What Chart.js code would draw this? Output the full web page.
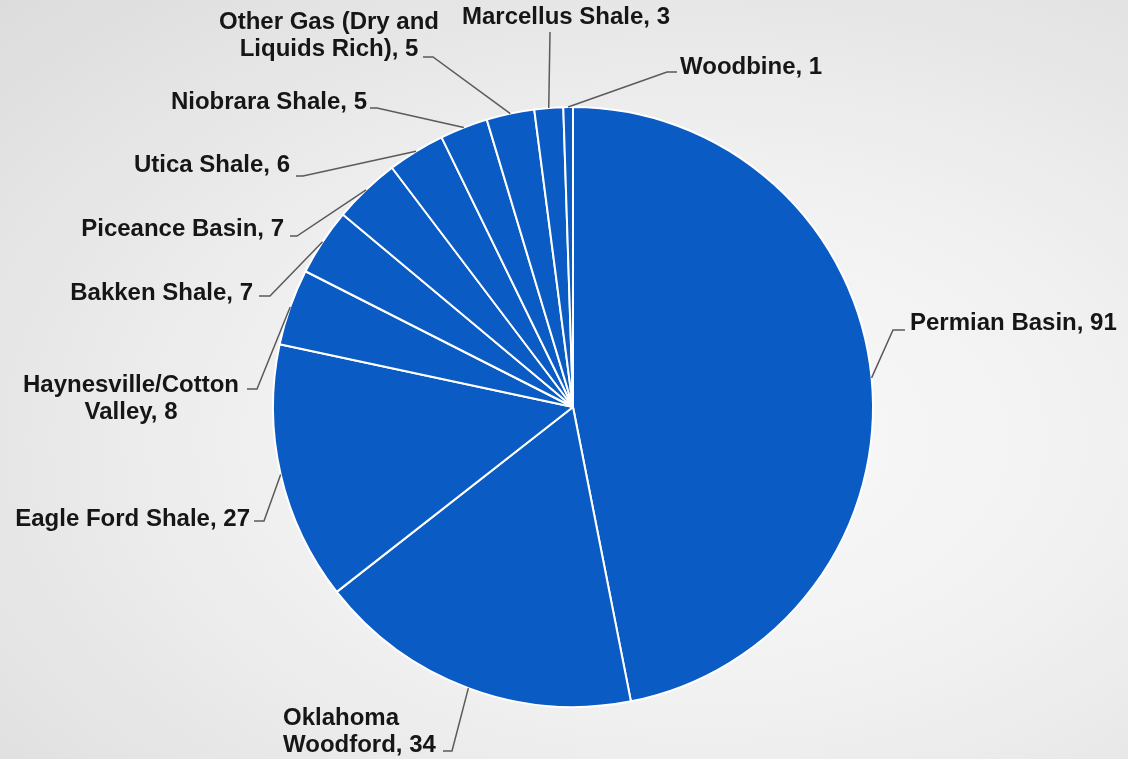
<!DOCTYPE html>
<html>
<head>
<meta charset="utf-8">
<script src="https://cdn.jsdelivr.net/npm/chart.js@4/dist/chart.umd.min.js"></script>
<style>
  html, body { margin: 0; padding: 0; }
  body {
    width: 1128px; height: 759px; overflow: hidden;
    background: radial-gradient(ellipse at 62% 58%, #fafafa 0%, #f0f0f0 45%, #dcdcdc 100%);
  }
  canvas { display: block; }
</style>
</head>
<body>
<canvas id="chart" width="1128" height="759"></canvas>
<script>
// rigs by basin, clockwise from 12 o'clock
var categories = ['Permian Basin', 'Oklahoma Woodford', 'Eagle Ford Shale', 'Haynesville/Cotton Valley',
    'Bakken Shale', 'Piceance Basin', 'Utica Shale', 'Niobrara Shale',
    'Other Gas (Dry and Liquids Rich)', 'Marcellus Shale', 'Woodbine'];
var rigCounts = [91, 34, 27, 8, 7, 7, 6, 5, 5, 3, 1];

// label placement: elbow of leader, end of tail, text anchor, alignment, optional line break
var labelLayout = [
    {elbow: [893, 330], tail: [905, 330], x: 910, y: 323, align: 'left'},
    {elbow: [452, 751], tail: [443, 751], x: 283, y: 718, align: 'left', br: 'Oklahoma'},
    {elbow: [264, 521], tail: [254, 521], x: 250, y: 519, align: 'right'},
    {elbow: [257, 389], tail: [247, 389], x: 131, y: 385, align: 'center', br: 'Haynesville/Cotton'},
    {elbow: [270, 296], tail: [259, 296], x: 253, y: 293, align: 'right'},
    {elbow: [297, 236], tail: [290, 236], x: 284, y: 229, align: 'right'},
    {elbow: [303, 176], tail: [296, 176], x: 290, y: 165, align: 'right'},
    {elbow: [377, 108], tail: [370, 108], x: 367, y: 102, align: 'right'},
    {elbow: [433, 57], tail: [423, 57], x: 329, y: 22, align: 'center', br: 'Other Gas (Dry and'},
    {elbow: [550, 32], tail: [550, 32], x: 566, y: 17, align: 'center'},
    {elbow: [667, 72], tail: [677, 72], x: 680, y: 67, align: 'left'}
];

const leaderLabels = {
    id: 'leaderLabels',
    afterDraw(chart) {
        const ctx = chart.ctx;
        const arcs = chart.getDatasetMeta(0).data;
        ctx.save();
        ctx.font = 'bold 24px "Liberation Sans", Arial, sans-serif';
        ctx.fillStyle = '#161616';
        ctx.strokeStyle = '#5a5a5a';
        ctx.lineWidth = 1.5;
        ctx.textBaseline = 'middle';
        arcs.forEach(function(arc, i) {
            const lay = labelLayout[i];
            const mid = (arc.startAngle + arc.endAngle) / 2;
            const ex = arc.x + Math.cos(mid) * arc.outerRadius;
            const ey = arc.y + Math.sin(mid) * arc.outerRadius;
            ctx.beginPath();
            ctx.moveTo(ex, ey);
            ctx.lineTo(lay.elbow[0], lay.elbow[1]);
            ctx.lineTo(lay.tail[0], lay.tail[1]);
            ctx.stroke();

            const full = categories[i] + ', ' + rigCounts[i];
            let lines = [full];
            if (lay.br) {
                lines = [lay.br, full.slice(lay.br.length).trim()];
            }
            ctx.textAlign = lay.align;
            lines.forEach(function(t, k) {
                ctx.fillText(t, lay.x, lay.y + k * 27);
            });
        });
        ctx.restore();
    }
};

const ctx = document.getElementById('chart').getContext('2d');
const rigChart = new Chart(ctx, {
    type: 'pie',
    data: {
        labels: categories,
        datasets: [{
            data: rigCounts,
            backgroundColor: '#0a5bc3',
            borderColor: '#ffffff',
            borderWidth: 2
        }]
    },
    options: {
        responsive: false,
        animation: false,
        radius: 300,
        layout: {
            padding: {top: 107, bottom: 52, left: 18, right: 0}
        },
        plugins: {
            legend: {display: false},
            tooltip: {enabled: false}
        }
    },
    plugins: [leaderLabels]
});
</script>
</body>
</html>
